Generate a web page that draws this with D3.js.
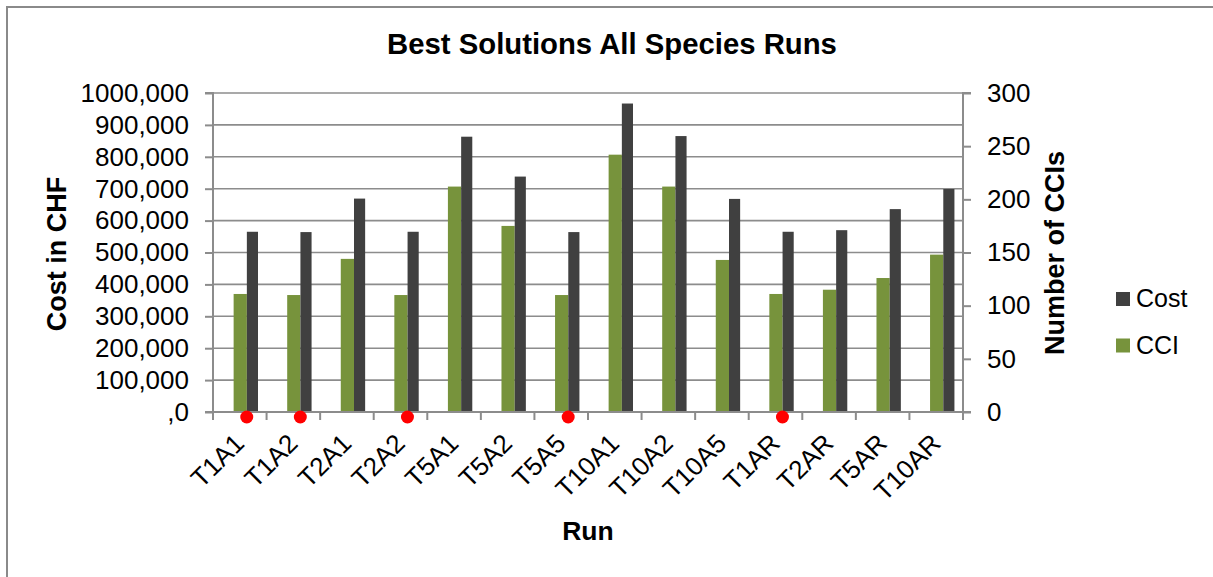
<!DOCTYPE html>
<html>
<head>
<meta charset="utf-8">
<script src="https://cdn.jsdelivr.net/npm/d3@7"></script>
<style>
  html, body { margin: 0; padding: 0; background: #fff; }
  svg { display: block; font-family: "Liberation Sans", Arial, sans-serif; }
</style>
</head>
<body>
<svg id="chart" width="1213" height="577"></svg>
<script>
// Runs and the two measured series
const runs = ["T1A1", "T1A2", "T2A1", "T2A2", "T5A1", "T5A2", "T5A5",
              "T10A1", "T10A2", "T10A5", "T1AR", "T2AR", "T5AR", "T10AR"];
const cost = [565000, 564000, 669000, 565000, 863000, 738000, 564000,
              967000, 865000, 668000, 565000, 570000, 636000, 699000];
const cci = [111, 110, 144, 110, 212, 175, 110,
             242, 212, 143, 111, 115, 126, 148];
// Runs flagged with a red marker under the axis
const flaggedRuns = ["T1A1", "T1A2", "T2A2", "T5A5", "T1AR"];

// Axis ticks
const costTicks = [0, 100000, 200000, 300000, 400000, 500000, 600000, 700000, 800000, 900000, 1000000];
const costTickLabels = [",0", "100,000", "200,000", "300,000", "400,000", "500,000",
                        "600,000", "700,000", "800,000", "900,000", "1000,000"];
const cciTicks = [0, 50, 100, 150, 200, 250, 300];
const cciTickLabels = ["0", "50", "100", "150", "200", "250", "300"];

const COLOR_COST = "#404040";
const COLOR_CCI = "#77933c";
const GRID = "#8c8c8c";
const TICK_FONT = "26px";

const svg = d3.select("#chart");

// Outer chart frame
svg.append("rect")
  .attr("x", 7).attr("y", 7).attr("width", 1400).attr("height", 800)
  .attr("fill", "none").attr("stroke", "#8a8a8a").attr("stroke-width", 2);

const plotLeft = 213, plotRight = 963, plotTop = 93, plotBottom = 412;

const x = d3.scaleBand().domain(runs).range([plotLeft, plotRight]).paddingInner(0).paddingOuter(0);
const yCost = d3.scaleLinear().domain([0, 1000000]).range([plotBottom, plotTop]);
const yCci = d3.scaleLinear().domain([0, 300]).range([plotBottom, plotTop]);
const bw = x.bandwidth();

// Horizontal gridlines on the cost axis
svg.append("g").selectAll("line").data(costTicks.slice(1)).join("line")
  .attr("x1", plotLeft).attr("x2", plotRight)
  .attr("y1", d => yCost(d)).attr("y2", d => yCost(d))
  .attr("stroke", GRID).attr("stroke-width", 1.6);

// Bars: CCI (secondary axis) and Cost (primary axis)
svg.append("g").selectAll("rect").data(runs).join("rect")
  .attr("x", d => x(d) + bw * 0.385)
  .attr("width", bw * 0.247)
  .attr("y", (d, i) => yCci(cci[i]))
  .attr("height", (d, i) => plotBottom - yCci(cci[i]))
  .attr("fill", COLOR_CCI);

svg.append("g").selectAll("rect").data(runs).join("rect")
  .attr("x", d => x(d) + bw * 0.632)
  .attr("width", bw * 0.208)
  .attr("y", (d, i) => yCost(cost[i]))
  .attr("height", (d, i) => plotBottom - yCost(cost[i]))
  .attr("fill", COLOR_COST);

// Left axis
const leftAxis = d3.axisLeft(yCost).tickValues(costTicks)
  .tickFormat((d, i) => costTickLabels[i]).tickSize(8).tickPadding(16);
const gL = svg.append("g").attr("transform", `translate(${plotLeft},0)`).call(leftAxis);

// Right axis
const rightAxis = d3.axisRight(yCci).tickValues(cciTicks)
  .tickFormat((d, i) => cciTickLabels[i]).tickSize(8).tickPadding(16);
const gR = svg.append("g").attr("transform", `translate(${plotRight},0)`).call(rightAxis);

// Bottom axis: ticks at category boundaries
const boundaries = runs.map(r => x(r)).concat([plotRight]);
const gB = svg.append("g");
gB.append("line").attr("x1", plotLeft).attr("x2", plotRight + 8)
  .attr("y1", plotBottom).attr("y2", plotBottom).attr("stroke", GRID).attr("stroke-width", 2);
gB.selectAll("line.tk").data(boundaries).join("line").attr("class", "tk")
  .attr("x1", d => d).attr("x2", d => d).attr("y1", plotBottom).attr("y2", plotBottom + 8)
  .attr("stroke", GRID).attr("stroke-width", 2);

[gL, gR].forEach(g => {
  g.select(".domain").attr("stroke", GRID).attr("stroke-width", 2);
  g.selectAll(".tick line").attr("stroke", GRID).attr("stroke-width", 2);
  g.selectAll(".tick text").attr("fill", "#000").style("font-size", TICK_FONT)
    .style("font-family", "'Liberation Sans', Arial, sans-serif");
});
gL.select(".domain").attr("d", `M-8,${plotTop}H0V${plotBottom}H-8`);
gR.select(".domain").attr("d", `M8,${plotTop}H0V${plotBottom + 8}`);

// Category labels, rotated
svg.append("g").selectAll("text").data(runs).join("text")
  .attr("transform", d => `translate(${x(d) + bw / 2 + 6},${plotBottom + 33}) rotate(-45)`)
  .attr("text-anchor", "end")
  .style("font-size", TICK_FONT)
  .text(d => d);

// Flag markers
svg.append("g").selectAll("circle").data(flaggedRuns).join("circle")
  .attr("cx", d => x(d) + bw * 0.63)
  .attr("cy", plotBottom + 5)
  .attr("r", 6.5)
  .attr("fill", "#ff0000");

// Titles
svg.append("text").attr("x", 612).attr("y", 54).attr("text-anchor", "middle")
  .style("font-size", "29.3px").style("font-weight", "bold").text("Best Solutions All Species Runs");

svg.append("text").attr("x", 588).attr("y", 540).attr("text-anchor", "middle")
  .style("font-size", "26.5px").style("font-weight", "bold").text("Run");

svg.append("text").attr("transform", `translate(66,254) rotate(-90)`).attr("text-anchor", "middle")
  .style("font-size", "27px").style("font-weight", "bold").text("Cost in CHF");

svg.append("text").attr("transform", `translate(1064,253) rotate(-90)`).attr("text-anchor", "middle")
  .style("font-size", "27px").style("font-weight", "bold").text("Number of CCIs");

// Legend
const legend = [{ name: "Cost", color: COLOR_COST }, { name: "CCI", color: COLOR_CCI }];
const lg = svg.append("g").selectAll("g").data(legend).join("g")
  .attr("transform", (d, i) => `translate(1116,${292 + i * 46.5})`);
lg.append("rect").attr("width", 14).attr("height", 14).attr("fill", d => d.color);
lg.append("text").attr("x", 20).attr("y", 15).style("font-size", "25px").text(d => d.name);
</script>
</body>
</html>
